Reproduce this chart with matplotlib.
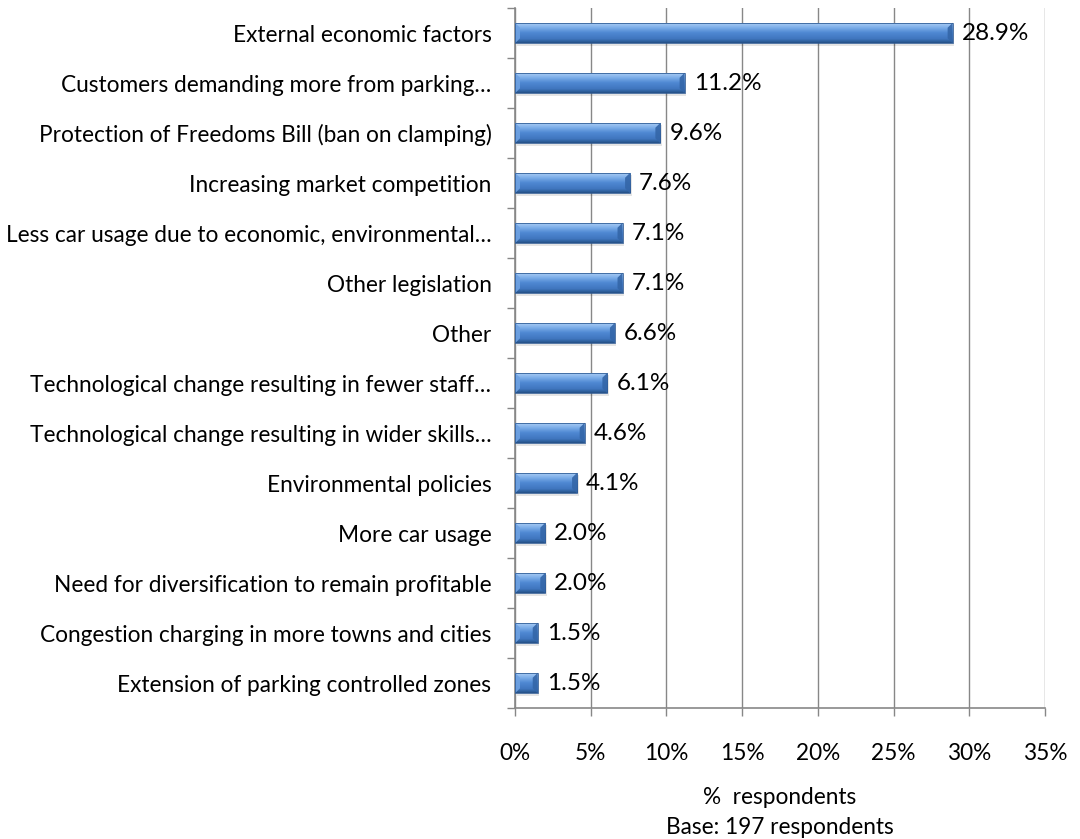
import numpy as np
import matplotlib
matplotlib.use("Agg")
import matplotlib.pyplot as plt
from matplotlib.patches import Polygon
from matplotlib.colors import LinearSegmentedColormap

categories = [
    "External economic factors",
    "Customers demanding more from parking\u2026",
    "Protection of Freedoms Bill (ban on clamping)",
    "Increasing market competition",
    "Less car usage due to economic, environmental\u2026",
    "Other legislation",
    "Other",
    "Technological change resulting in fewer staff\u2026",
    "Technological change resulting in wider skills\u2026",
    "Environmental policies",
    "More car usage",
    "Need for diversification to remain profitable",
    "Congestion charging in more towns and cities",
    "Extension of parking controlled zones",
]
values = [28.9, 11.2, 9.6, 7.6, 7.1, 7.1, 6.6, 6.1, 4.6, 4.1, 2.0, 2.0, 1.5, 1.5]
xticks = [0, 5, 10, 15, 20, 25, 30, 35]

plt.rcParams["font.family"] = ["Lato", "DejaVu Sans"]
FS = 16.3

fig = plt.figure(figsize=(10.8, 8.39), dpi=100)
ax = fig.add_axes([515 / 1080, 1 - 708 / 839, 530 / 1080, 700 / 839])

n = len(categories)
ypos = np.arange(n)
bar_h = 0.41

ax.set_xlim(0, 35)
ax.set_ylim(n - 0.5, -0.5)

# vertical gradient for the bar bodies
grad_cmap = LinearSegmentedColormap.from_list(
    "bevel",
    [(0.0, "#5d95da"), (0.08, "#a2c7f2"), (0.25, "#7fb0ea"), (0.5, "#4f89d3"),
     (0.8, "#4076bf"), (0.92, "#30629f"), (1.0, "#254f86")],
)
grad = np.linspace(0, 1, 96).reshape(-1, 1)

bars = ax.barh(ypos, values, height=bar_h, color="#4f89d3", edgecolor="none", zorder=3)

# pixel-to-data conversion for the bevel width
px_x = 35 / 530
px_y = n / 700
bev = 5

for rect, v in zip(bars, values):
    y0 = rect.get_y()
    y1 = y0 + rect.get_height()
    h = rect.get_height()
    # soft shadow under each bar
    ax.add_patch(plt.Rectangle((0.1, y0 + 2.5 * px_y), v, h,
                               color="#000000", alpha=0.10, lw=0, zorder=2))
    im = ax.imshow(grad, cmap=grad_cmap, aspect="auto",
                   extent=(0, v, y1, y0), zorder=3.5)
    im.set_clip_path(rect)
    bx = min(bev * px_x, v / 2)
    by = bev * px_y
    ym = y0 + h / 2
    # left end face (lighter) and right end face (darker)
    ax.add_patch(Polygon([(0, y0), (bx, y0 + by), (bx, y1 - by), (0, y1)],
                         closed=True, color="#6fa2e2", alpha=0.9, lw=0, zorder=4))
    ax.add_patch(Polygon([(v, y0), (v - bx, y0 + by), (v - bx, y1 - by), (v, y1)],
                         closed=True, color="#3466a8", alpha=0.9, lw=0, zorder=4))
    ax.add_patch(plt.Rectangle((0, y0), v, h, fill=False,
                               ec="#2e5a94", lw=0.7, alpha=0.8, zorder=4.5))
    ax.text(v + 9 * px_x, ym, f"{v:.1f}%",
            va="center", ha="left", fontsize=FS + 1.2, color="#000000", zorder=5)

ax.set_xticks(xticks)
ax.set_xticklabels([f"{t}%" for t in xticks], fontsize=FS)
ax.set_yticks(ypos)
ax.set_yticklabels(categories, fontsize=FS)
ax.set_yticks(np.arange(n + 1) - 0.5, minor=True)

ax.tick_params(axis="y", which="major", length=0, pad=17)
ax.tick_params(axis="y", which="minor", length=6, color="#878787", width=1)
ax.tick_params(axis="x", which="major", length=6, color="#878787", width=1, pad=19)

ax.grid(axis="x", color="#878787", lw=1, zorder=0)
ax.set_axisbelow(True)
for s in ["top", "right"]:
    ax.spines[s].set_visible(False)
for s in ["left", "bottom"]:
    ax.spines[s].set_color("#878787")
    ax.spines[s].set_linewidth(1.2)

cx = ax.get_position().x0 + ax.get_position().width / 2
fig.text(cx, 1 - 798 / 839, "%  respondents", ha="center", va="center", fontsize=FS)
fig.text(cx, 1 - 828 / 839, "Base: 197 respondents", ha="center", va="center", fontsize=FS)

fig.savefig("out.png", dpi=100)
